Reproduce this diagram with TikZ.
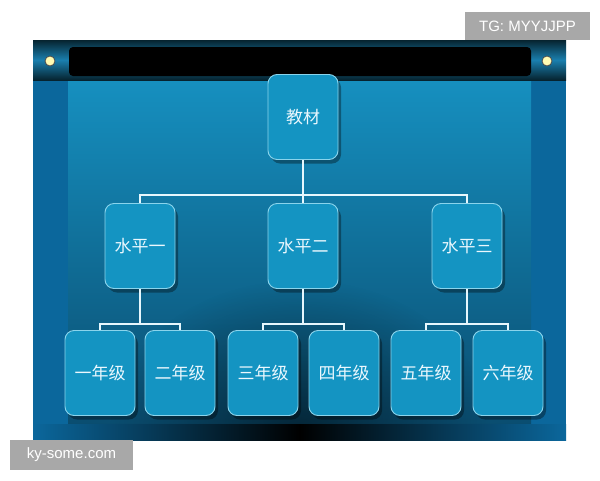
\documentclass[tikz,border=0pt]{standalone}
\usepackage{fontspec}
\setmainfont{Liberation Sans}
\newfontfamily\cjk{Noto Sans CJK SC}
\usetikzlibrary{fadings,shadows}
\definecolor{boxfill}{HTML}{1494C2}
\definecolor{boxline}{HTML}{8AD4EC}
\definecolor{sidecol}{HTML}{0B679C}
\definecolor{innertop}{HTML}{1690C0}
\definecolor{innerbot}{HTML}{0A4D70}
\definecolor{barmid}{HTML}{1A7FAE}
\definecolor{bardark}{HTML}{06232F}
\definecolor{wmgray}{HTML}{A8A8A8}
\pgfdeclarehorizontalshading{stripshade}{100bp}{color(0bp)=(sidecol); color(25bp)=(sidecol); color(50bp)=(black); color(75bp)=(sidecol); color(100bp)=(sidecol)}
\tikzfading[name=radfade, inner color=transparent!0, outer color=transparent!100]
\begin{document}
\begin{tikzpicture}[x=1pt,y=-1pt,
  box/.style={draw=boxline, line width=0.9pt, fill=boxfill, rounded corners=9pt,
    minimum width=70pt, minimum height=85pt, inner sep=0pt,
    font=\cjk\fontsize{17}{19}\selectfont, text=white!92!cyan,
    drop shadow={shadow xshift=3pt, shadow yshift=-4pt, fill=black, opacity=0.35}},
  link/.style={draw=white!90!cyan, line width=1.4pt},
  wm/.style={fill=wmgray, text=white, font=\fontsize{15}{17}\selectfont, inner sep=0pt, anchor=center}]
\useasboundingbox (0,0) rectangle (600,480);
\fill[white] (0,0) rectangle (600,480);
% panel
\fill[sidecol] (33,40) rectangle (566,440);
% inner area
\shade[top color=innertop, bottom color=innerbot] (68,78) rectangle (531,425);
\begin{scope}
\clip (68,78) rectangle (531,425);
\fill[black, path fading=radfade, fill opacity=0.5] (300,430) ellipse (190pt and 150pt);
\end{scope}
% bottom strip
\shade[shading=stripshade] (33,424) rectangle (566,440);
% top bar
\shade[top color=bardark, bottom color=bardark, middle color=barmid] (33,40) rectangle (566,80);
\fill[black, rounded corners=4pt] (69,47) rectangle (531,76);
\filldraw[fill=yellow!30!white, draw=black!70, line width=0.8pt] (50,61) circle (5pt);
\filldraw[fill=yellow!30!white, draw=black!70, line width=0.8pt] (547,61) circle (5pt);
% watermarks
\node[wm, minimum width=125pt, minimum height=28pt] (tg) at (527.5,26) {TG: MYYJJPP};
\node[wm, minimum width=123pt, minimum height=30pt] (ky) at (71.5,455) {ky-some.com};
% nodes
\node[box] (root) at (303,117) {教材};
\node[box] (l1) at (140,246) {水平一};
\node[box] (l2) at (303,246) {水平二};
\node[box] (l3) at (467,246) {水平三};
\node[box] (g1) at (100,373) {一年级};
\node[box] (g2) at (180,373) {二年级};
\node[box] (g3) at (263,373) {三年级};
\node[box] (g4) at (344,373) {四年级};
\node[box] (g5) at (426,373) {五年级};
\node[box] (g6) at (508,373) {六年级};
% connectors
\draw[link] (l1.north) |- (root.south |- 0,195) -| (l3.north);
\draw[link] (root.south) -- (l2.north);
\draw[link] (l1.south) |- (g1.north |- 0,324) -- (g1.north);
\draw[link] (l1.south |- 0,324) -| (g2.north);
\draw[link] (l2.south) |- (g3.north |- 0,324) -- (g3.north);
\draw[link] (l2.south |- 0,324) -| (g4.north);
\draw[link] (l3.south) |- (g5.north |- 0,324) -- (g5.north);
\draw[link] (l3.south |- 0,324) -| (g6.north);
\end{tikzpicture}
\end{document}
